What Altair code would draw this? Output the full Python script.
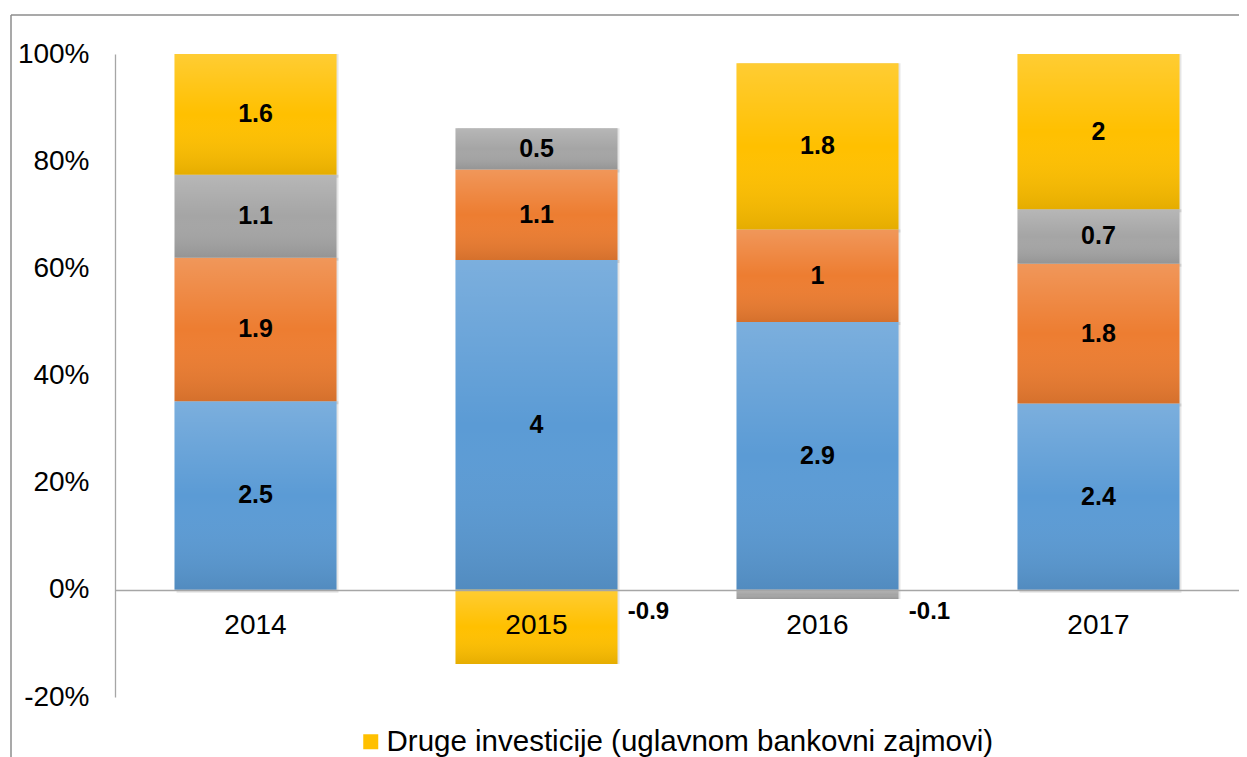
import altair as alt
import pandas as pd

years = ["2014", "2015", "2016", "2017"]
series_names = [
    "Strane direktne investicije",
    "Doznake i tekući transferi",
    "Portfolio investicije",
    "Druge investicije (uglavnom bankovni zajmovi)",
]
series_colors = ["#5b9bd5", "#ed7d31", "#a5a5a5", "#ffc000"]

blue_vals = [2.5, 4.0, 2.9, 2.4]
orange_vals = [1.9, 1.1, 1.0, 1.8]
gray_vals = [1.1, 0.5, -0.1, 0.7]
yellow_vals = [1.6, -0.9, 1.8, 2.0]

y_ticks = [-0.2, 0.0, 0.2, 0.4, 0.6, 0.8, 1.0]

rows = []
for si, (name, vals) in enumerate(zip(series_names, [blue_vals, orange_vals, gray_vals, yellow_vals])):
    for yr, v in zip(years, vals):
        rows.append({"year": yr, "series": name, "order": si, "value": v})
df = pd.DataFrame(rows)

FONT = "Liberation Sans"

base = alt.Chart(df).transform_calculate(
    absval="abs(datum.value)"
).transform_joinaggregate(
    total="sum(absval)", groupby=["year"]
).transform_calculate(
    share="datum.value / datum.total"
).transform_stack(
    stack="share", groupby=["year"], as_=["y0", "y1"], offset="zero",
    sort=[alt.SortField("order", order="ascending")]
).transform_calculate(
    mid="(datum.y0 + datum.y1) / 2",
    label="'' + datum.value",
    zero="0"
)

x_enc = alt.X(
    "year:N",
    title=None,
    sort=years,
    scale=alt.Scale(paddingInner=0.4235, paddingOuter=0.2118),
    axis=alt.Axis(
        orient="bottom", offset=-107, domainColor="#a6a6a6", domainWidth=1.3,
        ticks=False, tickSize=0, labelPadding=21, labelAngle=0, zindex=1,
        labelFont=FONT, labelFontSize=28, labelColor="#000000", grid=False,
    ),
)
y_scale = alt.Scale(domain=[-0.2, 1.0], nice=False, zero=False)
y_enc = alt.Y(
    "y0:Q",
    title=None,
    scale=y_scale,
    axis=alt.Axis(
        values=y_ticks, labelExpr="round(datum.value*100) + '%'",
        domainColor="#a6a6a6", domainWidth=1.3, ticks=False, tickSize=0,
        grid=False, labelPadding=26, labelFont=FONT, labelFontSize=28,
        labelColor="#000000",
    ),
)

shadow = base.mark_bar(color="#000000", opacity=0.10, xOffset=2, yOffset=3).encode(
    x=x_enc, y=y_enc, y2="y1:Q"
)

bars = base.mark_bar(strokeWidth=0).encode(
    x=x_enc,
    y=y_enc,
    y2="y1:Q",
    color=alt.Color(
        "series:N",
        scale=alt.Scale(domain=series_names, range=series_colors),
        legend=alt.Legend(
            values=[series_names[3]], orient="none", legendX=241, legendY=673,
            title=None, symbolType="square", symbolSize=225, symbolStrokeWidth=0,
            labelFont=FONT, labelFontSize=29.5, labelColor="#000000",
            labelOffset=1, padding=0, labelLimit=1000,
        ),
    ),
    order=alt.Order("order:Q"),
)

overlay = base.mark_bar(
    strokeWidth=0,
    fill=alt.Gradient(
        gradient="linear",
        x1=0, x2=0, y1=0, y2=1,
        stops=[
            alt.GradientStop(color="rgba(255,255,255,0.2)", offset=0),
            alt.GradientStop(color="rgba(255,255,255,0)", offset=0.5),
            alt.GradientStop(color="rgba(0,0,0,0.1)", offset=1),
        ],
    ),
).encode(x=x_enc, y=y_enc, y2="y1:Q")

pos_labels = base.transform_filter("datum.value >= 0").mark_text(
    font=FONT, fontSize=25, fontWeight="bold", color="#000000", baseline="middle"
).encode(x=x_enc, y=alt.Y("mid:Q", scale=y_scale), text="label:N")

neg_labels = base.transform_filter("datum.value < 0").mark_text(
    font=FONT, fontSize=24, fontWeight="bold", color="#000000", baseline="middle",
    dx=112, dy=22,
).encode(x=x_enc, y=alt.Y("zero:Q", scale=y_scale), text="label:N")

border_data = alt.Data(values=[{"k": 1}])
border_top = alt.Chart(border_data).mark_rule(color="#8c8c8c", strokeWidth=1.5).encode(
    x=alt.value(-104), x2=alt.value(1140), y=alt.value(-39)
)
border_left = alt.Chart(border_data).mark_rule(color="#8c8c8c", strokeWidth=1.5).encode(
    x=alt.value(-104), y=alt.value(-39), y2=alt.value(720)
)

chart = alt.layer(
    shadow, bars, overlay, pos_labels, neg_labels, border_top, border_left
).properties(
    width=1124,
    height=643,
    padding={"left": 107, "top": 46, "right": 0, "bottom": 60},
    autosize=alt.AutoSizeParams(type="none"),
).configure_view(stroke=None)

chart.save("out.html", embed_options={"renderer": "svg", "actions": False})
